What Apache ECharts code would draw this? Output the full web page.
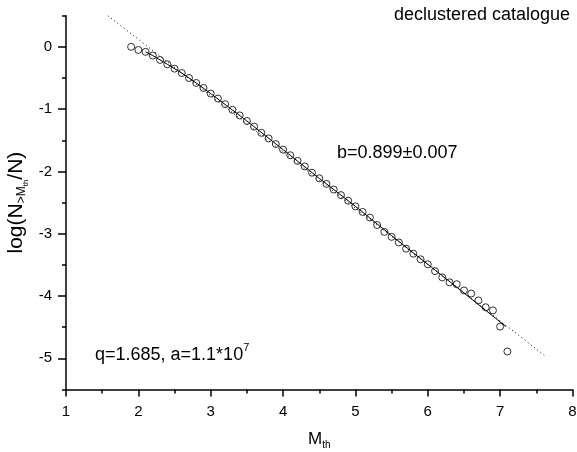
<!DOCTYPE html>
<html><head><meta charset="utf-8">
<script src="https://cdn.jsdelivr.net/npm/echarts@6/dist/echarts.min.js"></script>
<style>html,body{margin:0;padding:0;background:#fff}#c{width:577px;height:452px}</style>
</head><body><div id="c"></div>
<script>
// Observed data: M_th and log(N_{>M_th}/N)
const mth = [1.9,2.0,2.1,2.2,2.3,2.4,2.5,2.6,2.7,2.8,2.9,3.0,3.1,3.2,3.3,3.4,3.5,3.6,3.7,3.8,3.9,4.0,4.1,4.2,4.3,4.4,4.5,4.6,4.7,4.8,4.9,5.0,5.1,5.2,5.3,5.4,5.5,5.6,5.7,5.8,5.9,6.0,6.1,6.2,6.3,6.4,6.5,6.6,6.7,6.8,6.9,7.0,7.1];
const logN = [0.00,-0.05,-0.08,-0.14,-0.21,-0.28,-0.35,-0.42,-0.50,-0.58,-0.66,-0.75,-0.83,-0.92,-1.01,-1.10,-1.19,-1.28,-1.38,-1.47,-1.56,-1.65,-1.74,-1.83,-1.92,-2.02,-2.11,-2.20,-2.29,-2.38,-2.47,-2.56,-2.65,-2.74,-2.86,-2.97,-3.05,-3.14,-3.24,-3.32,-3.41,-3.49,-3.60,-3.70,-3.78,-3.81,-3.91,-3.96,-4.07,-4.18,-4.23,-4.49,-4.89];
// Model curve (solid)
const modelM = [2.1,2.2,2.4,2.6,2.8,3.0,3.5,4.0,4.5,5.0,5.5,6.0,6.5,7.08];
const modelY = [-0.08,-0.14,-0.28,-0.42,-0.58,-0.75,-1.19,-1.65,-2.11,-2.56,-3.03,-3.49,-3.95,-4.49];
// Gutenberg-Richter fit (dotted)
const fitM = [1.58,7.61];
const fitY = [0.50,-4.95];
// Ticks
const yTickLabels = [-5,-4,-3,-2,-1,0];
const xTickLabels = [1,2,3,4,5,6,7,8];

const FONT = 'Liberation Sans';
const pts = mth.map((m,i)=>[m,logN[i]]);
const model = modelM.map((m,i)=>[m,modelY[i]]);
const fit = fitM.map((m,i)=>[m,fitY[i]]);

const chart = echarts.init(document.getElementById('c'), null, {renderer:'canvas'});
const axisLineStyle = {color:'#000', width:1.5};
chart.setOption({
  animation:false,
  backgroundColor:'#fff',
  textStyle:{fontFamily:FONT},
  grid:[
    {left:66, right:4.5, top:15.7, bottom:62.5, containLabel:false, outerBoundsMode:'none'},
    {left:66, right:4.5, top:46.85, bottom:93.65, containLabel:false, outerBoundsMode:'none'}
  ],
  xAxis:[
    {gridIndex:0, type:'value', min:xTickLabels[0], max:xTickLabels[xTickLabels.length-1], interval:1,
     axisLine:{show:true, onZero:false, lineStyle:axisLineStyle},
     axisTick:{show:true, inside:false, length:7, lineStyle:{color:'#000', width:1.5}},
     minorTick:{show:true, splitNumber:2, length:4, lineStyle:{color:'#000', width:1.5}},
     splitLine:{show:false}, minorSplitLine:{show:false},
     axisLabel:{color:'#000', fontSize:15, fontFamily:FONT, margin:15},
     name:'M{sub|th}', nameLocation:'middle', nameGap:39,
     nameTextStyle:{color:'#000', fontSize:17, fontFamily:FONT, lineHeight:22,
       rich:{sub:{fontSize:10, fontFamily:FONT, color:'#000', verticalAlign:'bottom', lineHeight:22}}}
    },
    {gridIndex:1, type:'value', min:1, max:8, show:false}
  ],
  yAxis:[
    {gridIndex:0, type:'value', min:-5.5, max:0.5, interval:0.5,
     axisLine:{show:true, onZero:false, lineStyle:axisLineStyle},
     axisTick:{show:true, inside:false, length:4, lineStyle:{color:'#000', width:1.5}},
     splitLine:{show:false},
     axisLabel:{show:false},
     name:'log(N{sub|>M}{sub2|th}/N)', nameLocation:'middle', nameRotate:90, nameGap:36,
     nameTextStyle:{color:'#000', fontSize:21, fontFamily:FONT, lineHeight:28,
       rich:{
         sub:{fontSize:12, fontFamily:FONT, color:'#000', verticalAlign:'bottom', lineHeight:28, padding:[0,0,2,0]},
         sub2:{fontSize:8, fontFamily:FONT, color:'#000', verticalAlign:'bottom', lineHeight:28}
       }}
    },
    {gridIndex:1, type:'value', min:yTickLabels[0], max:yTickLabels[yTickLabels.length-1], interval:1,
     axisLine:{show:false},
     axisTick:{show:true, inside:false, length:8, lineStyle:{color:'#000', width:1.5}},
     splitLine:{show:false},
     axisLabel:{color:'#000', fontSize:15, fontFamily:FONT, margin:14}
    }
  ],
  series:[
    {type:'line', xAxisIndex:0, yAxisIndex:0, data:fit, showSymbol:false, symbol:'none',
     lineStyle:{color:'#000', width:1, type:[1,3]}, silent:true},
    {type:'line', xAxisIndex:0, yAxisIndex:0, data:model, showSymbol:false, symbol:'none', smooth:false,
     lineStyle:{color:'#000', width:1}, silent:true},
    {type:'scatter', xAxisIndex:0, yAxisIndex:0, data:pts, symbol:'circle', symbolSize:7,
     itemStyle:{color:'rgba(0,0,0,0)', borderColor:'#000', borderWidth:1}, silent:true}
  ],
  graphic:[
    {type:'text', right:7, top:6, style:{text:'declustered catalogue', fill:'#000', font:'18px "Liberation Sans"'}},
    {type:'text', left:337, top:144, style:{text:'b=0.899\u00b10.007', fill:'#000', font:'18px "Liberation Sans"'}},
    {type:'text', left:95, top:342, style:{text:'q=1.685, a=1.1*10{sup|7}', fill:'#000', font:'18px "Liberation Sans"', lineHeight:26,
      rich:{sup:{fontSize:11, fontFamily:FONT, fill:'#000', verticalAlign:'top', lineHeight:26}}}}
  ]
});
</script></body></html>
